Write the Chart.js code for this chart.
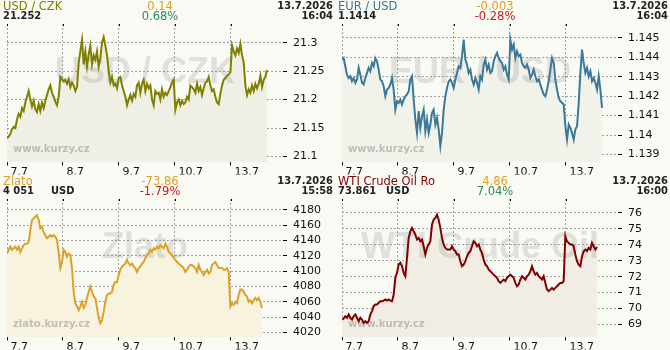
<!DOCTYPE html>
<html>
<head>
<meta charset="utf-8">
<script src="https://cdn.jsdelivr.net/npm/chart.js@4/dist/chart.umd.min.js"></script>
<style>
body{margin:0;background:#fafaf4;width:670px;height:350px;overflow:hidden;font-family:"DejaVu Sans",sans-serif}
.p{position:absolute;width:335px;height:175px}
.p canvas{position:absolute;left:0;top:0}
.t{position:absolute;white-space:nowrap;line-height:10px;font-size:11.5px}
.v{font-family:"DejaVu Sans Condensed","DejaVu Sans";font-weight:bold;font-size:11px;color:#222}
.d{font-family:"DejaVu Sans Condensed","DejaVu Sans";font-weight:bold;font-size:11px;color:#222;text-align:right}
.c{width:80px;text-align:center}
</style>
</head>
<body>
<script>
// day labels on the x axis (trading days)
const dayLabels = ['7.7', '8.7', '9.7', '10.7', '13.7'];

// USD / CZK, intraday samples from 7.7 to 13.7 16:04
const usdCzk = [
  21.132, 21.135, 21.140, 21.148, 21.152, 21.150, 21.165, 21.175, 21.170, 21.185,
  21.180, 21.195, 21.205, 21.215, 21.200, 21.188, 21.198, 21.183, 21.178, 21.192,
  21.180, 21.195, 21.185, 21.198, 21.208, 21.218, 21.225, 21.212, 21.205, 21.196,
  21.190, 21.205, 21.240, 21.236, 21.232, 21.235, 21.228, 21.236, 21.222, 21.230,
  21.225, 21.215, 21.222, 21.265, 21.285, 21.305, 21.262, 21.285, 21.258, 21.280,
  21.295, 21.262, 21.278, 21.270, 21.285, 21.258, 21.272, 21.300, 21.310, 21.295,
  21.278, 21.250, 21.230, 21.240, 21.225, 21.228, 21.220, 21.238, 21.240, 21.225,
  21.215, 21.205, 21.190, 21.200, 21.208, 21.198, 21.210, 21.205, 21.225, 21.230,
  21.212, 21.228, 21.235, 21.215, 21.228, 21.220, 21.225, 21.200, 21.190, 21.215,
  21.210, 21.212, 21.200, 21.218, 21.205, 21.212, 21.208, 21.215, 21.222, 21.230,
  21.235, 21.182, 21.195, 21.200, 21.190, 21.198, 21.192, 21.195, 21.205, 21.200,
  21.225, 21.222, 21.218, 21.212, 21.228, 21.215, 21.222, 21.208, 21.220, 21.230,
  21.232, 21.240, 21.225, 21.215, 21.218, 21.205, 21.195, 21.192, 21.210, 21.225,
  21.235, 21.238, 21.242, 21.244, 21.248, 21.295, 21.285, 21.278, 21.290, 21.282,
  21.298, 21.278, 21.265, 21.225, 21.208, 21.218, 21.212, 21.225, 21.215, 21.228,
  21.220, 21.228, 21.242, 21.222, 21.235, 21.240, 21.252
];

// EUR / USD
const eurUsd = [
  1.14389, 1.14397, 1.14354, 1.14311, 1.14294, 1.14303, 1.14277, 1.14294, 1.14269, 1.14286,
  1.14346, 1.14311, 1.14269, 1.14260, 1.14294, 1.14320, 1.14346, 1.14329, 1.14371, 1.14354,
  1.14397, 1.14380, 1.14337, 1.14286, 1.14277, 1.14251, 1.14200, 1.14234, 1.14243, 1.14260,
  1.14294, 1.14234, 1.14131, 1.14174, 1.14166, 1.14183, 1.14157, 1.14183, 1.14200, 1.14209,
  1.14226, 1.14286, 1.14303, 1.14183, 1.14080, 1.14011, 1.14123, 1.14037, 1.14097, 1.14131,
  1.14020, 1.14080, 1.14011, 1.14054, 1.14114, 1.14131, 1.14054, 1.14089, 1.14029, 1.13943,
  1.14011, 1.14131, 1.14200, 1.14243, 1.14277, 1.14286, 1.14269, 1.14243, 1.14286, 1.14320,
  1.14354, 1.14346, 1.14406, 1.14491, 1.14389, 1.14363, 1.14320, 1.14337, 1.14286, 1.14260,
  1.14294, 1.14269, 1.14234, 1.14303, 1.14286, 1.14363, 1.14389, 1.14337, 1.14363, 1.14320,
  1.14329, 1.14380, 1.14406, 1.14423, 1.14397, 1.14380, 1.14371, 1.14337, 1.14354, 1.14311,
  1.14286, 1.14491, 1.14440, 1.14466, 1.14397, 1.14431, 1.14406, 1.14414, 1.14371, 1.14354,
  1.14346, 1.14363, 1.14337, 1.14294, 1.14311, 1.14337, 1.14303, 1.14277, 1.14286, 1.14260,
  1.14234, 1.14209, 1.14200, 1.14234, 1.14277, 1.14337, 1.14397, 1.14371, 1.14286, 1.14234,
  1.14191, 1.14174, 1.14166, 1.14157, 1.14046, 1.13977, 1.14054, 1.14037, 1.14011, 1.13977,
  1.14029, 1.14046, 1.14166, 1.14320, 1.14440, 1.14371, 1.14320, 1.14346, 1.14303, 1.14329,
  1.14277, 1.14294, 1.14269, 1.14234, 1.14303, 1.14234, 1.14140
];

// Zlato (gold), USD
const zlato = [
  4123, 4128, 4132, 4128, 4130, 4132, 4128, 4132, 4125, 4130,
  4134, 4136, 4136, 4138, 4154, 4167, 4169, 4171, 4173, 4167,
  4156, 4158, 4151, 4147, 4143, 4145, 4147, 4145, 4147, 4145,
  4141, 4125, 4104, 4112, 4128, 4125, 4119, 4123, 4121, 4104,
  4073, 4058, 4054, 4049, 4054, 4060, 4052, 4056, 4065, 4073,
  4080, 4073, 4067, 4065, 4052, 4039, 4032, 4036, 4047, 4060,
  4069, 4071, 4071, 4073, 4082, 4086, 4086, 4095, 4102, 4106,
  4108, 4110, 4115, 4110, 4108, 4110, 4106, 4104, 4099, 4104,
  4106, 4110, 4112, 4117, 4121, 4123, 4128, 4125, 4130, 4128,
  4132, 4130, 4134, 4132, 4130, 4136, 4132, 4125, 4123, 4121,
  4117, 4115, 4112, 4110, 4108, 4106, 4104, 4099, 4102, 4106,
  4108, 4108, 4106, 4104, 4099, 4108, 4102, 4099, 4095, 4099,
  4102, 4097, 4099, 4108, 4110, 4112, 4108, 4104, 4104, 4104,
  4102, 4102, 4104, 4099, 4054, 4058, 4056, 4060, 4058, 4069,
  4076, 4076, 4073, 4069, 4067, 4060, 4062, 4058, 4062, 4065,
  4062, 4065, 4060, 4052
];

// WTI Crude Oil, USD
const wti = [
  69.31, 69.38, 69.52, 69.42, 69.63, 69.42, 69.31, 69.52, 69.63, 69.42,
  69.21, 69.42, 69.31, 69.10, 69.21, 69.10, 69.21, 69.63, 69.84, 70.15,
  70.25, 70.25, 70.36, 70.46, 70.46, 70.50, 70.57, 70.50, 70.57, 70.50,
  70.46, 70.88, 71.93, 72.24, 72.76, 72.87, 72.66, 72.24, 72.03, 73.18,
  74.43, 74.85, 75.06, 74.85, 74.64, 74.33, 74.43, 74.22, 74.33, 73.91,
  73.39, 73.81, 74.02, 74.22, 75.27, 75.58, 75.69, 75.90, 75.58, 75.06,
  74.43, 74.02, 73.81, 73.70, 73.70, 73.70, 73.91, 73.70, 73.60, 73.39,
  73.39, 72.97, 72.66, 72.76, 72.97, 73.28, 73.49, 73.60, 73.91, 74.22,
  74.12, 73.91, 74.02, 73.70, 73.49, 73.07, 72.76, 72.66, 72.45, 72.34,
  72.24, 72.13, 72.03, 71.93, 71.72, 71.61, 71.72, 71.82, 71.72, 71.93,
  72.03, 72.13, 72.03, 71.93, 71.61, 71.40, 71.51, 71.82, 72.03, 71.93,
  71.82, 72.03, 72.13, 72.34, 72.66, 72.34, 72.13, 72.24, 72.03, 71.93,
  71.82, 72.03, 71.61, 71.19, 71.09, 71.19, 71.30, 71.19, 71.30, 71.40,
  71.51, 71.61, 71.61, 71.72, 74.54, 74.22, 74.12, 74.02, 74.02, 73.91,
  73.39, 72.97, 72.76, 72.66, 73.28, 73.60, 73.70, 73.60, 73.81, 73.70,
  74.12, 73.91, 73.70, 73.86
];

const panels = [
  {left: 0, top: 0, name: 'USD / CZK', big: 'USD / CZK', site: 'www.kurzy.cz', color: '#808000', fill: '#efefe5',
   values: usdCzk, end: 4.645, min: 21.0895, max: 21.333, step: 0.05, dec: 3,
   price: '21.252', unit: '', chg: '0.14', pct: '0.68%', pctColor: '#2e8b57', date: '13.7.2026', time: '16:04'},
  {left: 335, top: 0, name: 'EUR / USD', big: 'EUR / USD', site: 'www.kurzy.cz', color: '#3c7898', fill: '#f1f2ea',
   values: eurUsd, end: 4.645, min: 1.13859, max: 1.14572, step: 0.001, dec: 4,
   price: '1.1414', unit: '', chg: '-0.003', pct: '-0.28%', pctColor: '#c0201e', date: '13.7.2026', time: '16:04'},
  {left: 0, top: 175, name: 'Zlato', big: 'Zlato', site: 'zlato.kurzy.cz', color: '#dca226', fill: '#f7f3df',
   values: zlato, end: 4.555, min: 4013.5, max: 4194.3, step: 20, dec: 0,
   price: '4 051', unit: 'USD', chg: '-73.86', pct: '-1.79%', pctColor: '#c0201e', date: '13.7.2026', time: '15:58'},
  {left: 335, top: 175, name: 'WTI Crude Oil Ro', big: 'WTI Crude Oil', site: 'www.kurzy.cz', color: '#800000', fill: '#f1ede5',
   values: wti, end: 4.555, min: 68.19, max: 76.875, step: 1, dec: 2,
   price: '73.861', unit: 'USD', chg: '4.86', pct: '7.04%', pctColor: '#2e8b57', date: '13.7.2026', time: '16:00'}
];

// watermark texts and small black marks at the top of the day lines
const marks = {
  id: 'marks',
  beforeDatasetsDraw(chart, args, o) {
    const ctx = chart.ctx, a = chart.chartArea;
    ctx.save();
    ctx.font = 'bold 36px "Liberation Sans"';
    ctx.fillStyle = 'rgba(150,150,150,0.27)';
    ctx.textAlign = 'center';
    ctx.fillText(o.big, (a.left + a.right) / 2, 83);
    ctx.font = 'bold 10px "DejaVu Sans"';
    ctx.fillStyle = 'rgba(140,140,140,0.5)';
    ctx.textAlign = 'left';
    ctx.fillText(o.site, 13, 152);
    ctx.fillStyle = '#000';
    const xs = chart.scales.x;
    xs.ticks.forEach(t => ctx.fillRect(Math.round(xs.getPixelForValue(t.value)), a.top, 1, 2));
    ctx.restore();
  }
};

function txt(parent, cls, css, s) {
  const d = document.createElement('div');
  d.className = 't ' + cls;
  Object.assign(d.style, css);
  d.textContent = s;
  parent.appendChild(d);
}

panels.forEach(p => {
  const box = document.createElement('div');
  box.className = 'p';
  box.style.left = p.left + 'px';
  box.style.top = p.top + 'px';
  document.body.appendChild(box);
  const cv = document.createElement('canvas');
  cv.width = 335; cv.height = 175;
  box.appendChild(cv);

  txt(box, '', {left: '3px', top: '1px', color: p.color}, p.name);
  txt(box, 'v', {left: '3px', top: '11px'}, p.price);
  if (p.unit) txt(box, 'v', {left: '51px', top: '11px'}, p.unit);
  txt(box, 'c', {left: '120px', top: '1px', color: '#e0a020'}, p.chg);
  txt(box, 'c', {left: '120px', top: '11px', color: p.pctColor}, p.pct);
  txt(box, 'd', {right: '2px', top: '1px'}, p.date);
  txt(box, 'd', {right: '2px', top: '11px'}, p.time);

  const n = p.values.length;
  const pts = p.values.map((v, i) => ({x: p.end * i / (n - 1), y: v}));

  new Chart(cv, {
    type: 'line',
    data: {
      datasets: [{
        data: pts,
        borderColor: p.color,
        borderWidth: 2,
        backgroundColor: p.fill,
        fill: 'start',
        pointRadius: 0,
        tension: 0
      }]
    },
    options: {
      responsive: false,
      animation: false,
      layout: {padding: {left: 7, top: 24, right: 0, bottom: 0}},
      plugins: {
        legend: {display: false},
        tooltip: {enabled: false},
        filler: {drawTime: 'beforeDatasetsDraw'},
        marks: {big: p.big, site: p.site}
      },
      scales: {
        x: {
          type: 'linear',
          min: 0,
          max: 4.93,
          afterFit: s => { s.height = 12; },
          border: {display: false, dash: [2, 2]},
          grid: {color: '#a0a0a0', tickColor: '#000', tickLength: 3, tickBorderDash: []},
          ticks: {
            stepSize: 1,
            includeBounds: false,
            autoSkip: false,
            maxRotation: 0,
            align: 'start',
            padding: 0,
            color: '#111',
            font: {family: 'DejaVu Sans', size: 11},
            callback: v => dayLabels[v] !== undefined ? ' ' + dayLabels[v] : ''
          }
        },
        y: {
          position: 'right',
          min: p.min,
          max: p.max,
          afterFit: s => { s.width = 52; },
          border: {display: false, dash: [2, 2]},
          grid: {color: '#a0a0a0', tickColor: '#000', tickLength: 4, tickBorderDash: []},
          ticks: {
            stepSize: p.step,
            includeBounds: false,
            padding: 6,
            color: '#111',
            font: {family: 'DejaVu Sans', size: 11},
            callback: v => String(+v.toFixed(p.dec))
          }
        }
      }
    },
    plugins: [marks]
  });
});
</script>
</body>
</html>
